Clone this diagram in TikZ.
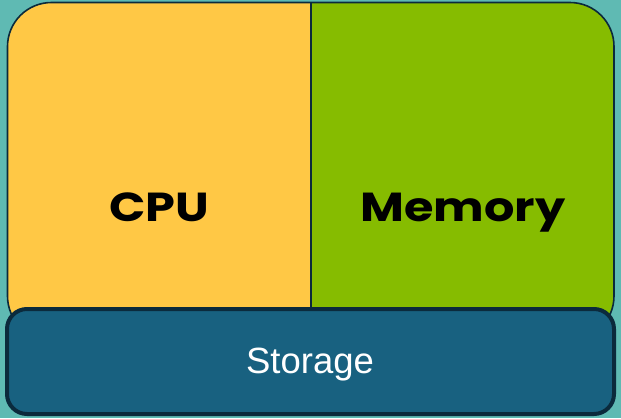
\documentclass[tikz,border=0pt]{standalone}
\usepackage{fontspec}
\setmainfont{Liberation Sans}
\newfontfamily\headfont{Poppins}[UprightFont=* Bold, FakeStretch=1.18]
\definecolor{bgteal}{HTML}{5FBAB3}
\definecolor{cpuyellow}{HTML}{FFC845}
\definecolor{memgreen}{HTML}{86BC00}
\definecolor{storeblue}{HTML}{186180}
\definecolor{edgenavy}{HTML}{0B2A3C}
\tikzset{
  x=1pt, y=-1pt,
  headlabel/.style={font=\headfont\fontsize{40.5}{44}\selectfont, text=black, anchor=base},
  storelabel/.style={font=\fontsize{36.5}{40}\selectfont, text=white, anchor=base},
}
\begin{document}
\begin{tikzpicture}
  % canvas
  \fill[bgteal] (0,0) rectangle (621,418);
  \useasboundingbox (0,0) rectangle (621,418);
  % upper block: CPU and memory halves
  \begin{scope}
    \clip[rounded corners=44] (7.5,2.5) rectangle (614,340);
    \fill[cpuyellow] (0,0) rectangle (311,418);
    \fill[memgreen] (311,0) rectangle (621,418);
  \end{scope}
  \draw[edgenavy, line width=1.6pt, rounded corners=44] (7.5,2.5) rectangle (614,340);
  \draw[edgenavy, line width=1.6pt] (311,2.5) -- (311,310);
  % storage bar
  \fill[storeblue, draw=edgenavy, line width=4pt, rounded corners=20]
    (7,309) rectangle (614,414);
  \node[headlabel] (cpu) at (159,221) {CPU};
  \node[headlabel] (mem) at (463,221) {Memory};
  \node[storelabel] (store) at (310,373) {Storage};
\end{tikzpicture}
\end{document}
